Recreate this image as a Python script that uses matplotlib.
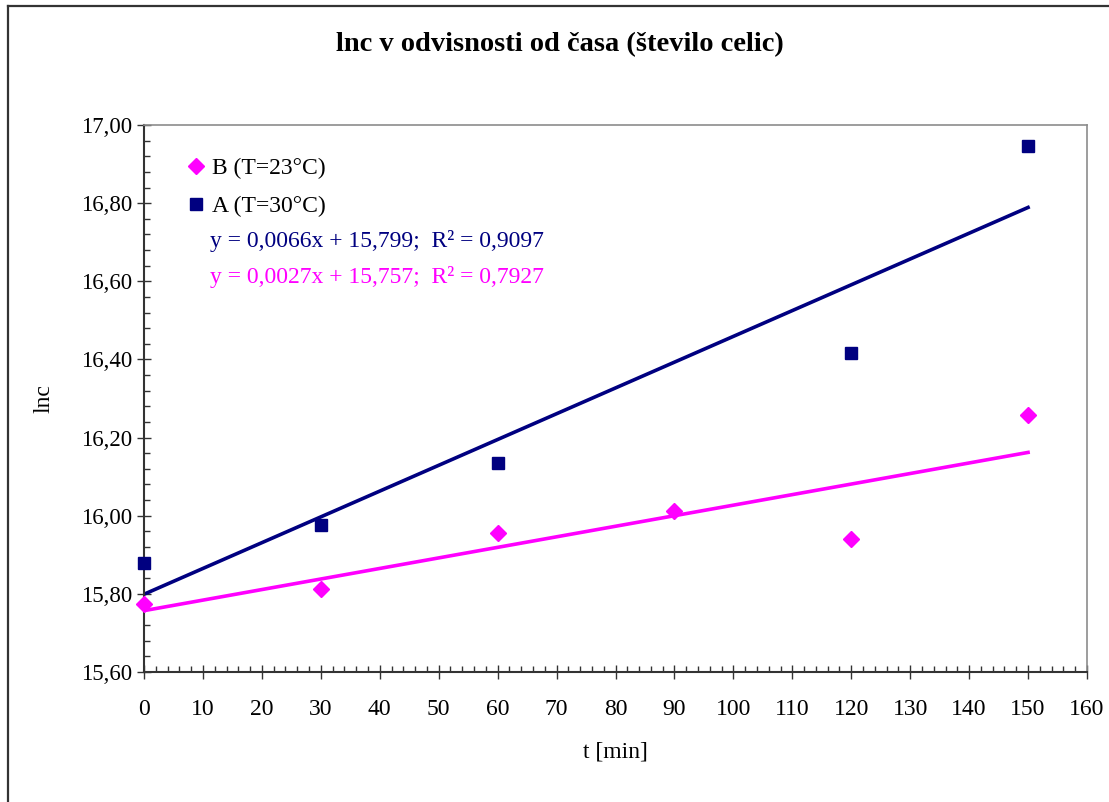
import matplotlib
matplotlib.use("Agg")
import matplotlib.pyplot as plt
from matplotlib.ticker import MultipleLocator, FuncFormatter
from matplotlib.lines import Line2D

plt.rcParams['font.family'] = ['Liberation Serif', 'DejaVu Serif']

# measured values
t_a = [0, 30, 60, 120, 150]
lnc_a = [15.879, 15.976, 16.135, 16.416, 16.946]
t_b = [0, 30, 60, 90, 120, 150]
lnc_b = [15.774, 15.812, 15.956, 16.012, 15.940, 16.258]

# trend lines (from the chart's equations)
fit_a = (0.0066, 15.799, 0.9097)
fit_b = (0.0027, 15.757, 0.7927)
fit_range = [0, 150]

navy = '#000080'
magenta = '#FF00FF'

fig = plt.figure(figsize=(11.09, 8.02), dpi=100)
ax = fig.add_axes([144/1109, 130/802, (1087-144)/1109, (672-125)/802])

# outer chart border (only top and left edges are visible)
fig.add_artist(Line2D([7.5/1109, 1], [1 - 5.5/802, 1 - 5.5/802],
                      transform=fig.transFigure, color='#333333', linewidth=1.6))
fig.add_artist(Line2D([7.5/1109, 7.5/1109], [0, 1 - 5.5/802],
                      transform=fig.transFigure, color='#333333', linewidth=1.6))

def line(fit):
    return [fit[0]*x + fit[1] for x in fit_range]

ax.plot(fit_range, line(fit_a), color=navy, linewidth=2.6, zorder=2)
ax.plot(fit_range, line(fit_b), color=magenta, linewidth=2.6, zorder=2)
ax.plot(t_b, lnc_b, linestyle='none', marker='D', markersize=8.5,
        color=magenta, label='B (T=23°C)', zorder=3, clip_on=False)
ax.plot(t_a, lnc_a, linestyle='none', marker='s', markersize=8.5,
        color=navy, label='A (T=30°C)', zorder=3, clip_on=False)

ax.set_xlim(0, 160)
ax.set_ylim(15.6, 17.0)
ax.xaxis.set_major_locator(MultipleLocator(10))
ax.xaxis.set_minor_locator(MultipleLocator(2))
ax.yaxis.set_major_locator(MultipleLocator(0.2))
ax.yaxis.set_minor_locator(MultipleLocator(0.04))
ax.yaxis.set_major_formatter(FuncFormatter(lambda v, p: f"{v:.2f}".replace('.', ',')))

ax.tick_params(axis='x', which='major', direction='inout', length=9.5,
               width=1, labelsize=17, pad=15, color='#333333')
ax.tick_params(axis='x', which='minor', direction='in', length=4, width=1, color='#333333')
ax.tick_params(axis='y', which='major', direction='inout', length=9.5,
               width=1, labelsize=16.5, pad=4, color='#333333')
ax.tick_params(axis='y', which='minor', direction='in', length=4, width=1, color='#333333')

for s in ['top', 'right']:
    ax.spines[s].set_color('#8c8c8c')
    ax.spines[s].set_linewidth(1.2)
for s in ['left', 'bottom']:
    ax.spines[s].set_color('#333333')
    ax.spines[s].set_linewidth(1.5)

ax.set_xlabel('t [min]', fontsize=17, labelpad=15)
ax.set_ylabel('lnc', fontsize=17, labelpad=19)
fig.text(560/1109, 1 - 45/802, 'lnc v odvisnosti od časa (število celic)',
         ha='center', va='center', fontsize=20.5, fontweight='bold')

leg = ax.legend(loc='upper left', bbox_to_anchor=(0.038, 0.958), frameon=False,
                fontsize=17, handlelength=0.6, handletextpad=0.35,
                labelspacing=0.72, borderaxespad=0)

def eq(fit):
    return (f"y = {fit[0]:.4f}x + {fit[1]:.3f};  R² = {fit[2]:.4f}").replace('.', ',')

ax.text(0.070, 0.788, eq(fit_a), transform=ax.transAxes, color=navy,
        fontsize=17, va='center', ha='left')
ax.text(0.070, 0.722, eq(fit_b), transform=ax.transAxes, color=magenta,
        fontsize=17, va='center', ha='left')

fig.savefig('out.png', dpi=100)
